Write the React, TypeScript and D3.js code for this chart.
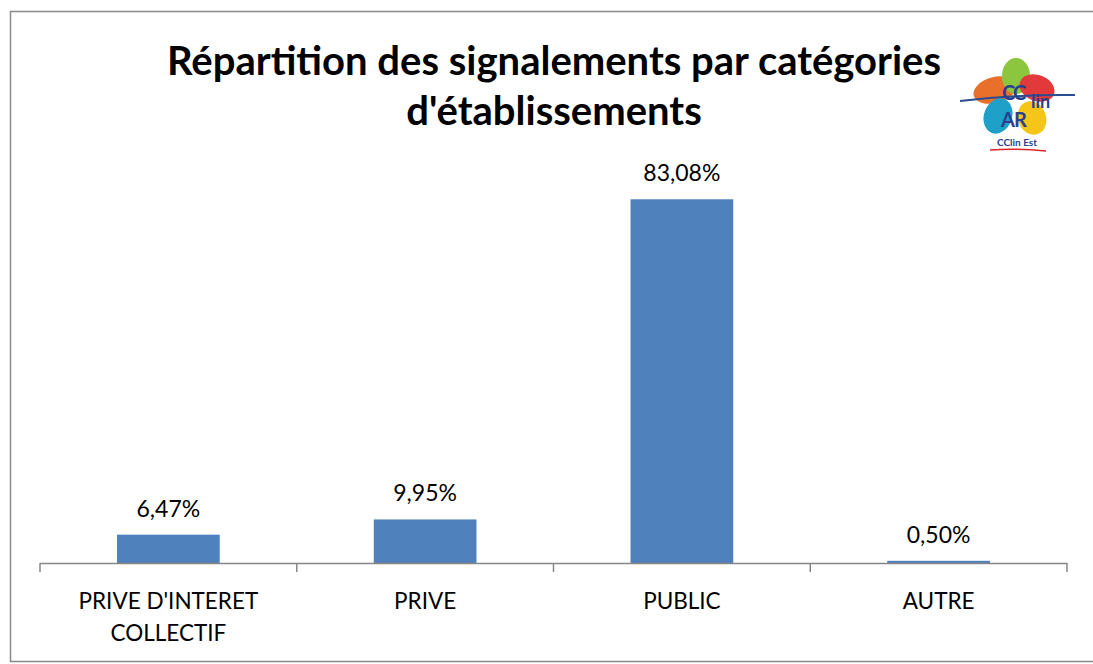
import React from "react";
import * as d3 from "d3";

const categories = ["PRIVE D'INTERET|COLLECTIF", "PRIVE", "PUBLIC", "AUTRE"];
const values = [6.47, 9.95, 83.08, 0.5];
const valueLabels = ["6,47%", "9,95%", "83,08%", "0,50%"];
const titleLines = ["Répartition des signalements par catégories", "d'établissements"];

const W = 1093, H = 664;
const FONT = "Lato, 'Open Sans', sans-serif";

export default function App() {
  const x = d3.scaleBand<number>().domain(d3.range(categories.length)).range([40, 1067]).paddingInner(0.6).paddingOuter(0.3);
  const band = d3.scaleBand<number>().domain(d3.range(categories.length)).range([40, 1067]);
  const y = d3.scaleLinear().domain([0, 90]).range([563, 169]);
  const ticks = d3.range(categories.length + 1).map(i => 40 + i * band.step());
  return (
    <svg width={W} height={H} style={{ position: "absolute", left: 0, top: 0 }}>
      <rect x={0} y={0} width={W} height={H} fill="#fff" />
      <rect x={10.5} y={11.5} width={1095} height={650} fill="#fff" stroke="#898989" strokeWidth={1.5} />
      {titleLines.map((t, i) => (
        <text key={i} x={554} y={75 + i * 50} textAnchor="middle" fontFamily={FONT} fontWeight="bold" fontSize={40} fill="#000">{t}</text>
      ))}
      {/* logo */}
      <g>
        <ellipse cx={995} cy={90} rx={22} ry={13} fill="#e8702a" transform="rotate(-15 995 90)" />
        <ellipse cx={1016} cy={76} rx={14} ry={18} fill="#8cc63f" />
        <ellipse cx={1037} cy={88} rx={18} ry={13} fill="#e23a3a" transform="rotate(20 1037 88)" />
        <ellipse cx={998} cy={116} rx={14} ry={18} fill="#1fa0c8" transform="rotate(20 998 116)" />
        <ellipse cx={1032} cy={118} rx={14} ry={17} fill="#f5c518" transform="rotate(-20 1032 118)" />
        <path d="M960,101 Q1020,94 1075,95" stroke="#2a4d8f" strokeWidth={2} fill="none" />
        <text x={1002} y={100} fontFamily={FONT} fontWeight="bold" fontSize={20} fill="#2a3f8f" letterSpacing={-2}>CC</text>
        <text x={1031} y={108} fontFamily={FONT} fontWeight="bold" fontSize={18} fill="#2a3f8f">lin</text>
        <text x={1001} y={127} fontFamily={FONT} fontWeight="bold" fontSize={20} fill="#2a3f8f" letterSpacing={-1}>AR</text>
        <text x={1017} y={146} textAnchor="middle" fontFamily={FONT} fontWeight="bold" fontSize={10} fill="#2a3f8f">CClin Est</text>
        <path d="M990,150 Q1017,148 1046,151" stroke="#d9262c" strokeWidth={1.5} fill="none" />
      </g>
      {values.map((v, i) => (
        <g key={i}>
          <rect x={x(i)} y={y(v)} width={x.bandwidth()} height={563 - y(v)} fill="#4f81bd" />
          <text x={x(i)! + x.bandwidth() / 2} y={y(v) - 18} textAnchor="middle" fontFamily={FONT} fontSize={23} fill="#000">{valueLabels[i]}</text>
        </g>
      ))}
      <line x1={40} x2={1067} y1={563.5} y2={563.5} stroke="#868686" strokeWidth={1.5} />
      {ticks.map((t, i) => (
        <line key={i} x1={t} x2={t} y1={563} y2={572} stroke="#868686" strokeWidth={1.5} />
      ))}
      {categories.map((c, i) => (
        <text key={i} x={band(i)! + band.bandwidth() / 2} y={609} textAnchor="middle" fontFamily={FONT} fontSize={22.5} fill="#000">
          {c.split("|").map((l, j) => (
            <tspan key={j} x={band(i)! + band.bandwidth() / 2} dy={j === 0 ? 0 : 32}>{l}</tspan>
          ))}
        </text>
      ))}
    </svg>
  );
}
